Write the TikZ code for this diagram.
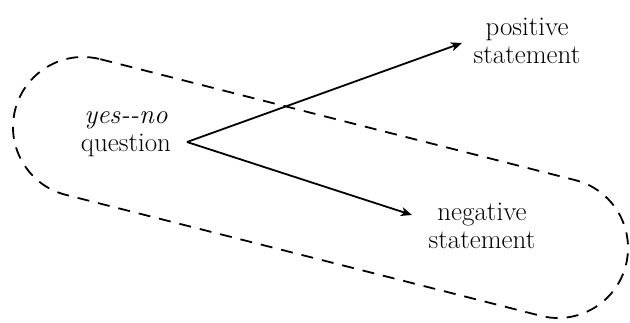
\documentclass[tikz,border=0pt]{standalone}
\usetikzlibrary{arrows.meta,calc}
\begin{document}
\begin{tikzpicture}[x=1pt,y=1pt,
  lbl/.style={align=center,inner sep=2pt,font=\fontsize{27}{28}\selectfont},
  conn/.style={line width=1.8pt,-{Stealth[length=11pt,width=9pt,inset=3pt]}},
  loopline/.style={line width=1.8pt,dash pattern=on 12pt off 9pt}]
\useasboundingbox (0,0) rectangle (630,322);
% text nodes
\node[lbl] (q) at (126,188) {\textit{yes-{}-no}\\question};
\node[lbl] (p) at (527,281) {positive\\statement};
\node[lbl] (n) at (482,96) {negative\\statement};
% start and ends of the connectors
\coordinate (v) at (187,180);
\coordinate (pt) at (462,279);
\coordinate (nt) at (412,107);
\draw[conn] (v) -- (pt);
\draw[conn] (v) -- (nt);
% dashed loop
\coordinate (c1) at (83,195);
\coordinate (c2) at (558,74);
\def\ang{-14.29}
\def\len{490.2}
\draw[loopline] (c1) ++(\ang+90:70) -- ++(\ang:\len)
  arc[start angle=\ang+90,end angle=\ang-90,radius=70]
  -- ++(\ang+180:\len)
  arc[start angle=\ang-90,end angle=\ang-270,radius=70] -- cycle;
\end{tikzpicture}
\end{document}
